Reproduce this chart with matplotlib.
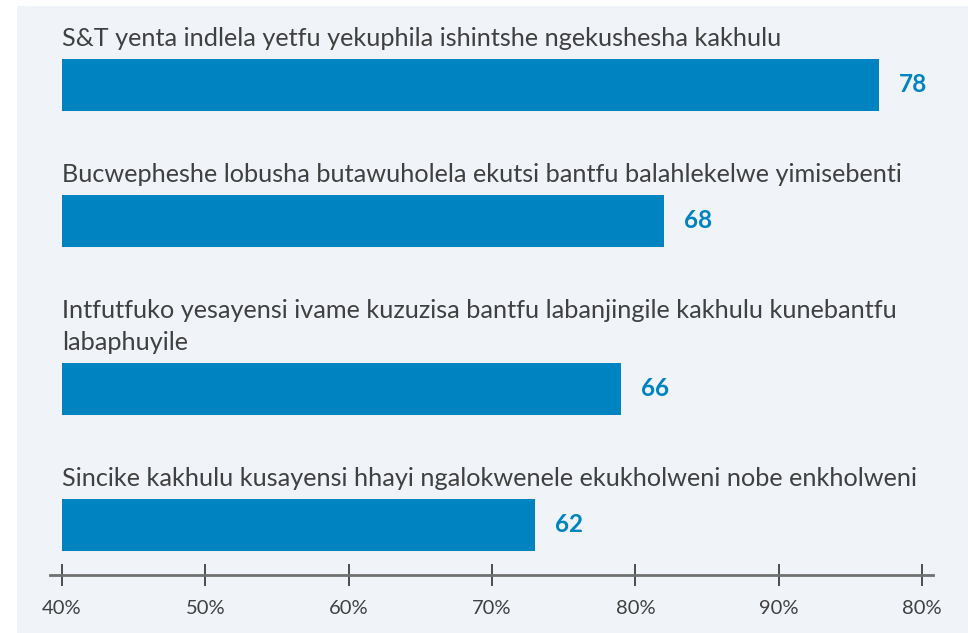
import matplotlib
matplotlib.use("Agg")
import matplotlib.pyplot as plt
from matplotlib.patches import Rectangle

labels = [
    "S&T yenta indlela yetfu yekuphila ishintshe ngekushesha kakhulu",
    "Bucwepheshe lobusha butawuholela ekutsi bantfu balahlekelwe yimisebenti",
    "Intfutfuko yesayensi ivame kuzuzisa bantfu labanjingile kakhulu kunebantfu\nlabaphuyile",
    "Sincike kakhulu kusayensi hhayi ngalokwenele ekukholweni nobe enkholweni",
]
values = [78, 68, 66, 62]
tick_values = [40, 46.67, 53.33, 60, 66.67, 73.33, 80]
tick_labels = ["40%", "50%", "60%", "70%", "80%", "90%", "80%"]

W, H = 968, 633
BLUE = "#0083C1"
TEXT = "#404040"
plt.rcParams["font.family"] = ["Lato", "DejaVu Sans"]

fig = plt.figure(figsize=(W / 100, H / 100), dpi=100)
fig.patch.set_facecolor("white")
fig.patches.append(Rectangle((17 / W, 0), 1, (H - 6) / H, transform=fig.transFigure,
                             facecolor="#F0F3F8", edgecolor="none", zorder=-5))

# axes spans the whole figure; y in pixels from top, x in data units
ax = fig.add_axes([0, 0, 1, 1])
ax.set_zorder(2)
ax.patch.set_visible(False)
px_per_unit = 21.5
x0_px = 62
ax.set_xlim(40 - x0_px / px_per_unit, 40 + (W - x0_px) / px_per_unit)
ax.set_ylim(H, 0)

bar_h = 52
y = 85
for i, (lab, v) in enumerate(zip(labels, values)):
    lines = lab.split("\n")
    if i > 0:
        y += 136 + 32 * (len(lines) - 1)
    ax.barh(y, v - 40, left=40, height=bar_h, color=BLUE, zorder=2)
    top = y - bar_h / 2
    for j, line in enumerate(lines):
        base = top - 13 - 32 * (len(lines) - 1 - j)
        ax.text(40, base, line, ha="left", va="baseline", fontsize=18.2, color=TEXT)
    ax.annotate(str(v), (v, y), xytext=(20, 0), textcoords="offset pixels",
                ha="left", va="center", fontsize=17.5, fontweight="bold", color=BLUE)

for s in ["top", "left", "right"]:
    ax.spines[s].set_visible(False)
ax.spines["bottom"].set_position(("data", 575))
ax.spines["bottom"].set_bounds(40 - 12 / px_per_unit, 80 + 11 / px_per_unit)
ax.spines["bottom"].set_color("#707070")
ax.spines["bottom"].set_linewidth(2)
ax.set_yticks([])
ax.set_xticks(tick_values)
ax.set_xticklabels(tick_labels)
ax.tick_params(axis="x", direction="inout", length=16.5, width=1.3, color=TEXT,
               labelsize=14.5, labelcolor=TEXT, pad=10)

fig.savefig("out.png", dpi=100)
